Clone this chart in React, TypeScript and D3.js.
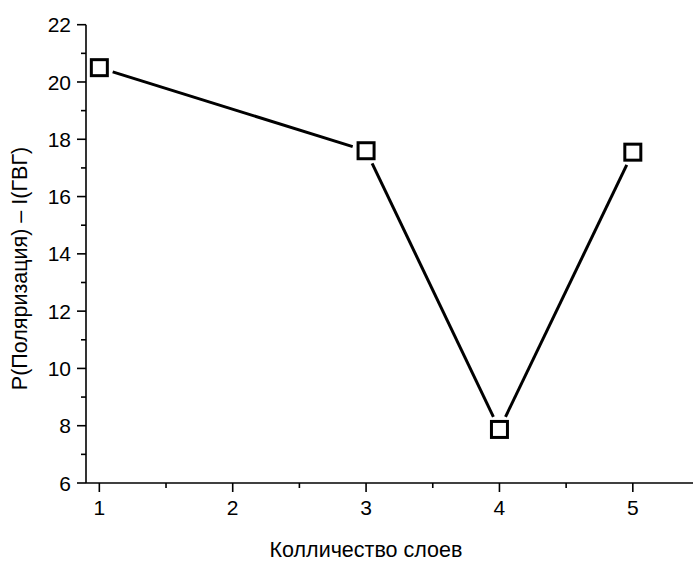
import React, { useEffect, useRef } from "react";
import * as d3 from "d3";

const layers = [1, 3, 4, 5];
const values = [20.5, 17.6, 7.87, 17.55];
const xTicks = [1, 2, 3, 4, 5];
const yTicks = [6, 8, 10, 12, 14, 16, 18, 20, 22];

export default function App() {
  const ref = useRef<SVGSVGElement>(null);

  useEffect(() => {
    const svg = d3.select(ref.current);
    svg.selectAll("*").remove();

    const x = d3.scaleLinear().domain([0.9, 5.5]).range([86, 699.5]);
    const y = d3.scaleLinear().domain([6, 22]).range([483, 24.7]);
    const font = "'Liberation Sans', Arial, sans-serif";

    // y axis
    const ya = svg.append("g").attr("transform", `translate(${x(0.9)},0)`);
    ya.append("line").attr("y1", y(22)).attr("y2", y(6)).attr("stroke", "#000").attr("stroke-width", 1.6);
    ya.selectAll(".major").data(yTicks).join("line")
      .attr("x1", -9).attr("x2", 0).attr("y1", d => y(d)).attr("y2", d => y(d))
      .attr("stroke", "#000").attr("stroke-width", 1.6);
    ya.selectAll(".minor").data(yTicks.slice(0, -1).map(d => d + 1)).join("line")
      .attr("x1", -5).attr("x2", 0).attr("y1", d => y(d)).attr("y2", d => y(d))
      .attr("stroke", "#000").attr("stroke-width", 1.6);
    ya.selectAll("text").data(yTicks).join("text")
      .attr("x", -15).attr("y", d => y(d)).attr("dy", "0.36em")
      .attr("text-anchor", "end").attr("font-family", font).attr("font-size", 21)
      .text(d => d);

    // x axis
    const xa = svg.append("g").attr("transform", `translate(0,${y(6)})`);
    xa.append("line").attr("x1", x(0.9)).attr("x2", 700).attr("stroke", "#000").attr("stroke-width", 1.6);
    xa.selectAll(".major").data(xTicks).join("line")
      .attr("x1", d => x(d)).attr("x2", d => x(d)).attr("y1", 0).attr("y2", 9)
      .attr("stroke", "#000").attr("stroke-width", 1.6);
    xa.selectAll(".minor").data(xTicks.map(d => d + 0.5)).join("line")
      .attr("x1", d => x(d)).attr("x2", d => x(d)).attr("y1", 0).attr("y2", 5)
      .attr("stroke", "#000").attr("stroke-width", 1.6);
    xa.selectAll("text").data(xTicks).join("text")
      .attr("x", d => x(d)).attr("y", 32)
      .attr("text-anchor", "middle").attr("font-family", font).attr("font-size", 21)
      .text(d => d);

    // line segments with gaps around markers
    const pts = layers.map((d, i) => [x(d), y(values[i])]);
    const gap = 14;
    const segs = d3.pairs(pts).map(([a, b]) => {
      const dx = b[0] - a[0], dy = b[1] - a[1];
      const len = Math.hypot(dx, dy);
      const ux = dx / len, uy = dy / len;
      return [a[0] + ux * gap, a[1] + uy * gap, b[0] - ux * gap, b[1] - uy * gap];
    });
    svg.selectAll(".seg").data(segs).join("line")
      .attr("class", "seg")
      .attr("x1", d => d[0]).attr("y1", d => d[1]).attr("x2", d => d[2]).attr("y2", d => d[3])
      .attr("stroke", "#000").attr("stroke-width", 3);

    // markers
    svg.selectAll(".pt").data(pts).join("rect")
      .attr("class", "pt")
      .attr("x", d => d[0] - 8).attr("y", d => d[1] - 8)
      .attr("width", 16).attr("height", 16)
      .attr("fill", "#fff").attr("stroke", "#000").attr("stroke-width", 3);

    // titles
    svg.append("text")
      .attr("x", 366).attr("y", 557)
      .attr("text-anchor", "middle").attr("font-family", font).attr("font-size", 21.5)
      .text("Колличество слоев");
    svg.append("text")
      .attr("transform", `translate(27,${268.5}) rotate(-90)`)
      .attr("text-anchor", "middle").attr("font-family", font).attr("font-size", 21.5)
      .text("P(Поляризация) – I(ГВГ)");
  }, []);

  return (
    <svg ref={ref} width={693} height={561}
      style={{ position: "absolute", left: 0, top: 0, background: "#fff" }} />
  );
}
